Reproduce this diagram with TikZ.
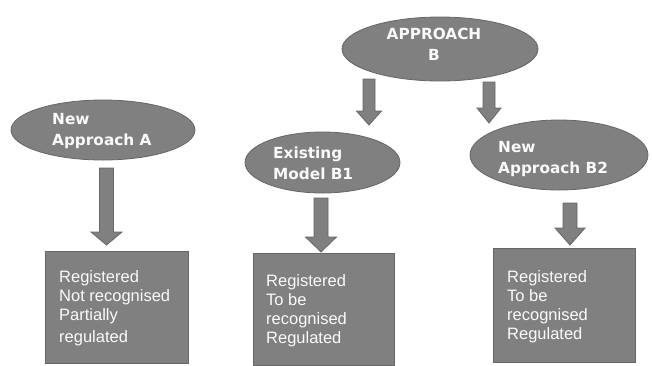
\documentclass[tikz,border=0pt]{standalone}
\usepackage{fontspec}
\usetikzlibrary{shapes.geometric,calc}
\newfontfamily\boxfont{Liberation Sans}
\newfontfamily\elfont{DejaVu Sans}
\definecolor{shapefill}{HTML}{808080}
\definecolor{shapeedge}{HTML}{666666}
\definecolor{txtwhite}{HTML}{FAFAFA}
\tikzset{
  ovalbox/.style={ellipse, draw=shapeedge, fill=shapefill, line width=0.8pt, inner sep=0pt},
  rectbox/.style={rectangle, draw=shapeedge, fill=shapefill, line width=0.8pt, inner sep=0pt},
  ovaltext/.style={inner sep=0pt, text=txtwhite, font=\elfont\bfseries\fontsize{15.3}{21}\selectfont},
  boxtext/.style={inner sep=0pt, text=txtwhite, align=left, anchor=north west, font=\boxfont\fontsize{16.5}{19}\selectfont},
  blockarrow/.style={draw=shapeedge, fill=shapefill, line width=0.8pt, line join=miter}
}
% #1 tail coordinate, #2 tip coordinate, #3 shaft half width, #4 head half width, #5 head length
\newcommand{\barrow}[5]{%
  \draw[blockarrow] ($(#1)+(-#3,0)$) -- ($(#2)+(-#3,-#5)$) -- ($(#2)+(-#4,-#5)$) -- (#2)
    -- ($(#2)+(#4,-#5)$) -- ($(#2)+(#3,-#5)$) -- ($(#1)+(#3,0)$) -- cycle;}
\begin{document}
\begin{tikzpicture}[x=1pt,y=-1pt]
\useasboundingbox (0,0) rectangle (652,365);
% ellipses
\node[ovalbox, minimum width=184pt, minimum height=60pt] (eA) at (103,130) {};
\node[ovalbox, minimum width=196pt, minimum height=64pt] (eB) at (440,49) {};
\node[ovalbox, minimum width=155pt, minimum height=61pt] (eB1) at (322.5,162.5) {};
\node[ovalbox, minimum width=178pt, minimum height=70pt] (eB2) at (559,155) {};
% ellipse texts
\node[ovaltext, align=left, anchor=north west] (tA) at (52,113.5) {New\\Approach A};
\node[ovaltext, align=center, anchor=north] (tB) at (434,27.5) {APPROACH\\B};
\node[ovaltext, align=left, anchor=north west] (tB1) at (273,147) {Existing\\Model B1};
\node[ovaltext, align=left, anchor=north west] (tB2) at (498,141.5) {New\\Approach B2};
% boxes
\node[rectbox, minimum width=143pt, minimum height=112pt] (bA) at (116.5,307) {};
\node[rectbox, minimum width=141pt, minimum height=112pt] (bB1) at (323.5,309) {};
\node[rectbox, minimum width=142pt, minimum height=114pt] (bB2) at (564,305) {};
% box texts
\node[boxtext] (xA) at (59,270) {Registered\\Not recognised\\Partially\\[3pt]regulated};
\node[boxtext] (xB1) at (266,274) {Registered\\To be\\recognised\\Regulated};
\node[boxtext] (xB2) at (507,270) {Registered\\To be\\recognised\\Regulated};
% arrow ends
\coordinate (aA1) at (106.5,168);  \coordinate (aA2) at (106.5,245);
\coordinate (aL1) at (369,79);     \coordinate (aL2) at (369,125);
\coordinate (aR1) at (489,82);     \coordinate (aR2) at (489,123);
\coordinate (aB11) at (321,198);   \coordinate (aB12) at (321,252);
\coordinate (aB21) at (570,203);   \coordinate (aB22) at (570,245);
\barrow{aA1}{aA2}{7}{15.5}{13}
\barrow{aL1}{aL2}{6}{12.5}{14}
\barrow{aR1}{aR2}{6}{12}{15}
\barrow{aB11}{aB12}{7}{15.5}{15}
\barrow{aB21}{aB22}{7}{15}{17}
\end{tikzpicture}
\end{document}
